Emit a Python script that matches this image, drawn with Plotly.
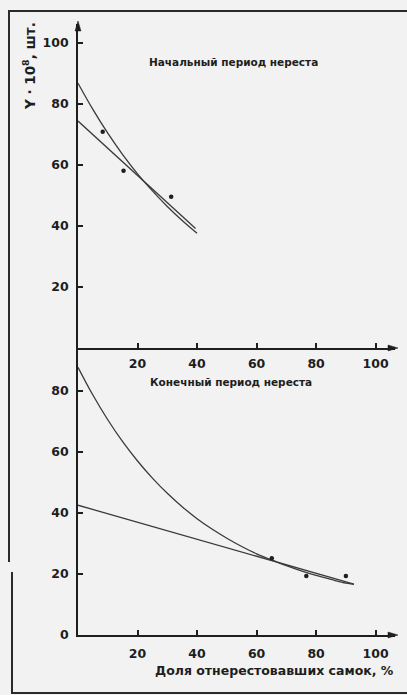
import plotly.graph_objects as go

# ---- data ----
x_ticks = [20, 40, 60, 80, 100]
y_ticks_top = [20, 40, 60, 80, 100]
y_ticks_bot = [0, 20, 40, 60, 80]

# Начальный период нереста
top_pts_x = [8.3, 15.3, 31.3]
top_pts_y = [70.9, 58.1, 49.6]
top_curve_x = [0, 5, 10, 15, 20, 25, 30, 35, 40]
top_curve_y = [86.8, 78.2, 70.4, 63.4, 57.1, 51.5, 46.4, 41.8, 37.6]
top_line_x = [0, 39.5]
top_line_y = [74.4, 39.2]

# Конечный период нереста
bot_pts_x = [65.1, 76.7, 90.0]
bot_pts_y = [25.1, 19.3, 19.3]
bot_curve_x = [0, 5, 10, 15, 20, 25, 30, 35, 40, 45, 50, 55, 60, 65, 70, 75, 80, 85, 90, 92.7]
bot_curve_y = [87.7, 78.6, 70.5, 63.3, 57.0, 51.4, 46.4, 42.0, 38.1, 34.7, 31.7, 29.0, 26.6, 24.6, 22.7, 21.0, 19.5, 18.2, 17.0, 16.6]
bot_line_x = [0, 92.7]
bot_line_y = [42.5, 16.7]

title_top = "Начальный период нереста"
title_bot = "Конечный период нереста"
x_title = "Доля отнерестовавших самок, %"
y_title = "Y · 10<sup>8</sup>, шт."

# ---- layout constants (pixel positions converted to full-figure fractions) ----
W, H = 407, 695
FONT = "DejaVu Sans, Liberation Sans, Arial, sans-serif"
INK = "#1e1e1e"
LINE = "#3a3a3a"

def px2paper(xp, yp):
    return xp / W, 1 - yp / H

X_L, X_R = 78, 395
Y_TOP, Y_MID, Y_BOT = 24, 348, 635
xdom = [X_L / W, X_R / W]
top_dom = [1 - Y_MID / H, 1 - Y_TOP / H]
bot_dom = [1 - Y_BOT / H, 1 - Y_MID / H]

fig = go.Figure()

def add_panel(xa, ya, cx, cy, lx, ly, px, py):
    fig.add_trace(go.Scatter(x=cx, y=cy, mode="lines", line=dict(color=LINE, width=1.3, shape="spline"),
                             xaxis=xa, yaxis=ya, showlegend=False, hoverinfo="skip"))
    fig.add_trace(go.Scatter(x=lx, y=ly, mode="lines", line=dict(color=LINE, width=1.3),
                             xaxis=xa, yaxis=ya, showlegend=False, hoverinfo="skip"))
    fig.add_trace(go.Scatter(x=px, y=py, mode="markers", marker=dict(color=INK, size=4.5),
                             xaxis=xa, yaxis=ya, showlegend=False))

add_panel("x", "y", top_curve_x, top_curve_y, top_line_x, top_line_y, top_pts_x, top_pts_y)
add_panel("x2", "y2", bot_curve_x, bot_curve_y, bot_line_x, bot_line_y, bot_pts_x, bot_pts_y)

tickfont = dict(family=FONT, size=12.5, color=INK, weight="bold")
axis_common = dict(showline=True, linecolor=INK, linewidth=1.8, ticks="inside", ticklen=5,
                   tickwidth=1.5, tickcolor=INK, showgrid=False, zeroline=False,
                   tickfont=tickfont, fixedrange=True, automargin=False)

fig.update_layout(
    width=W, height=H,
    margin=dict(l=0, r=0, t=0, b=0, autoexpand=False),
    paper_bgcolor="#f2f2f2", plot_bgcolor="rgba(0,0,0,0)",
    xaxis=dict(domain=xdom, range=[0, 106.5], anchor="y", tickvals=x_ticks,
               ticklabelstandoff=3, **axis_common),
    yaxis=dict(domain=top_dom, range=[0, 106.2], anchor="x", tickvals=y_ticks_top,
               ticklabelstandoff=5, **axis_common),
    xaxis2=dict(domain=xdom, range=[0, 106.5], anchor="y2", tickvals=x_ticks,
                ticklabelstandoff=6, **axis_common),
    yaxis2=dict(domain=bot_dom, range=[0, 94.0], anchor="x2", tickvals=y_ticks_bot,
                ticklabelstandoff=5, **axis_common),
)

annotations = []
for t, xp, yp in [(title_top, 233, 62), (title_bot, 231, 382)]:
    px_, py_ = px2paper(xp, yp)
    annotations.append(dict(text=t, x=px_, y=py_, xref="paper", yref="paper", showarrow=False,
                            font=dict(family=FONT, size=10.5, color=INK, weight="bold"),
                            xanchor="center", yanchor="middle"))
px_, py_ = px2paper(274, 670)
annotations.append(dict(text=x_title, x=px_, y=py_, xref="paper", yref="paper", showarrow=False,
                        font=dict(family=FONT, size=12.5, color=INK, weight="bold"),
                        xanchor="center", yanchor="middle"))
px_, py_ = px2paper(29, 66)
annotations.append(dict(text=y_title, x=px_, y=py_, xref="paper", yref="paper", showarrow=False,
                        textangle=-90, font=dict(family=FONT, size=13.5, color=INK, weight="bold"),
                        xanchor="center", yanchor="middle"))
fig.update_layout(annotations=annotations)

# axis arrowheads (filled triangles)
def tri(pts):
    conv = [px2paper(a, b) for a, b in pts]
    path = "M {} {} L {} {} L {} {} Z".format(*[v for p in conv for v in p])
    fig.add_shape(type="path", path=path, xref="paper", yref="paper",
                  fillcolor=INK, line=dict(color=INK, width=0.5))
tri([(78, 21), (75, 31), (81, 31)])
tri([(398, 348), (388, 345), (388, 351)])
tri([(398, 635), (388, 632), (388, 638)])

# scanned page frame as thin filled bars
def bar(x0, y0, x1, y1):
    a0, b0 = px2paper(x0, y0)
    a1, b1 = px2paper(x1, y1)
    fig.add_shape(type="rect", x0=a0, y0=b0, x1=a1, y1=b1, xref="paper", yref="paper",
                  fillcolor="#2a2a2a", line=dict(width=0), layer="above")
bar(8, 10, 407, 12)
bar(8, 10, 10, 562)
bar(11, 572, 13, 694)
bar(11, 692, 407, 694)

fig.write_html("out.html", config={"displayModeBar": False})
with open("out.html", "r", encoding="utf-8") as f:
    html = f.read()
html = html.replace("<head>", "<head><style>html,body{margin:0;padding:0;overflow:hidden;background:#f2f2f2;}</style>", 1)
with open("out.html", "w", encoding="utf-8") as f:
    f.write(html)
